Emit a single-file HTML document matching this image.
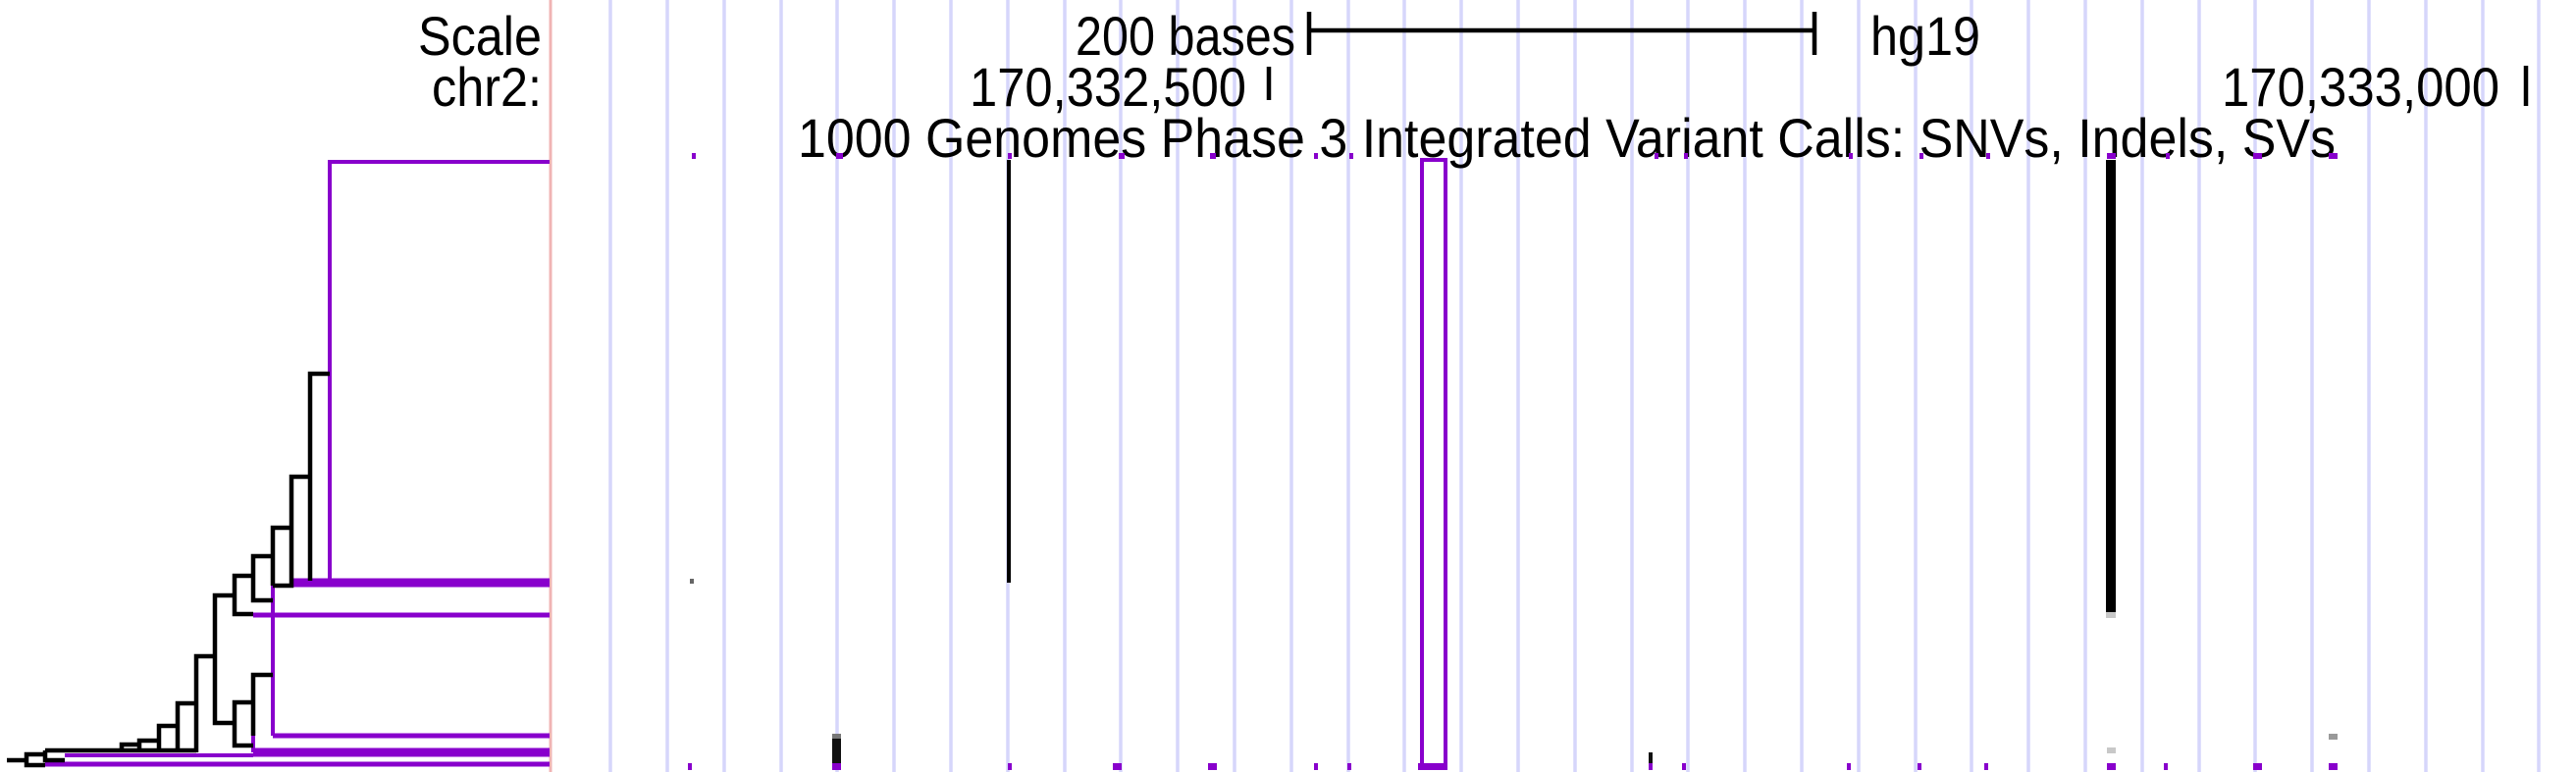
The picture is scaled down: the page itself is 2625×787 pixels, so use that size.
<!DOCTYPE html>
<html><head><meta charset="utf-8"><style>
html,body{margin:0;padding:0;background:#fff;}
svg{display:block;}
text{font-family:"Liberation Sans",Arial,sans-serif;font-size:56px;fill:#000;}
</style></head><body>
<svg width="2625" height="787" viewBox="0 0 2625 787" xmlns="http://www.w3.org/2000/svg">
<rect width="2625" height="787" fill="#fff"/>
<g stroke="#d6d6fb" stroke-width="3.5">
<line x1="622" y1="0" x2="622" y2="787"/><line x1="680" y1="0" x2="680" y2="787"/><line x1="738" y1="0" x2="738" y2="787"/><line x1="796" y1="0" x2="796" y2="787"/><line x1="853" y1="0" x2="853" y2="787"/><line x1="911" y1="0" x2="911" y2="787"/><line x1="969" y1="0" x2="969" y2="787"/><line x1="1027" y1="0" x2="1027" y2="787"/><line x1="1085" y1="0" x2="1085" y2="787"/><line x1="1142" y1="0" x2="1142" y2="787"/><line x1="1200" y1="0" x2="1200" y2="787"/><line x1="1258" y1="0" x2="1258" y2="787"/><line x1="1316" y1="0" x2="1316" y2="787"/><line x1="1374" y1="0" x2="1374" y2="787"/><line x1="1431" y1="0" x2="1431" y2="787"/><line x1="1489" y1="0" x2="1489" y2="787"/><line x1="1547" y1="0" x2="1547" y2="787"/><line x1="1605" y1="0" x2="1605" y2="787"/><line x1="1663" y1="0" x2="1663" y2="787"/><line x1="1720" y1="0" x2="1720" y2="787"/><line x1="1778" y1="0" x2="1778" y2="787"/><line x1="1836" y1="0" x2="1836" y2="787"/><line x1="1894" y1="0" x2="1894" y2="787"/><line x1="1952" y1="0" x2="1952" y2="787"/><line x1="2009" y1="0" x2="2009" y2="787"/><line x1="2067" y1="0" x2="2067" y2="787"/><line x1="2125" y1="0" x2="2125" y2="787"/><line x1="2183" y1="0" x2="2183" y2="787"/><line x1="2241" y1="0" x2="2241" y2="787"/><line x1="2298" y1="0" x2="2298" y2="787"/><line x1="2356" y1="0" x2="2356" y2="787"/><line x1="2414" y1="0" x2="2414" y2="787"/><line x1="2472" y1="0" x2="2472" y2="787"/><line x1="2530" y1="0" x2="2530" y2="787"/><line x1="2587" y1="0" x2="2587" y2="787"/>
</g>
<line x1="561" y1="0" x2="561" y2="787" stroke="#f0b4b4" stroke-width="3"/>

<text x="552" y="56" text-anchor="end" textLength="126" lengthAdjust="spacingAndGlyphs">Scale</text>
<text x="552" y="108" text-anchor="end" textLength="112" lengthAdjust="spacingAndGlyphs">chr2:</text>
<text x="1096" y="56" textLength="224" lengthAdjust="spacingAndGlyphs">200 bases</text>
<text x="1906" y="56" textLength="112" lengthAdjust="spacingAndGlyphs">hg19</text>
<text x="988" y="108" textLength="282" lengthAdjust="spacingAndGlyphs">170,332,500</text>
<text x="2264" y="108" textLength="283" lengthAdjust="spacingAndGlyphs">170,333,000</text>
<text x="813" y="160" textLength="1567" lengthAdjust="spacingAndGlyphs">1000 Genomes Phase 3 Integrated Variant Calls: SNVs, Indels, SVs</text>
<g stroke="#000" stroke-width="4.5">
<line x1="1334" y1="31" x2="1849" y2="31"/>
<line x1="1334" y1="12" x2="1334" y2="56"/>
<line x1="1849" y1="12" x2="1849" y2="56"/>
<line x1="1293" y1="68" x2="1293" y2="102"/>
<line x1="2574" y1="67" x2="2574" y2="108"/>
</g>

<rect x="1026" y="163" width="4" height="431" fill="#000"/>
<rect x="2146" y="163" width="10" height="465" fill="#000"/>
<rect x="2146" y="624" width="10" height="6" fill="#c8c8c8"/>
<rect x="1449" y="163" width="24" height="617" fill="none" stroke="#8800cc" stroke-width="4"/>
<rect x="848" y="748" width="9" height="30" fill="#111"/>
<rect x="848" y="748" width="9" height="5" fill="#777"/>
<rect x="1680" y="767" width="4" height="11" fill="#111"/>
<rect x="703" y="590" width="4" height="5" fill="#666"/>
<rect x="2373" y="748" width="9" height="6" fill="#999"/>
<rect x="2147" y="762" width="9" height="6" fill="#c8c8c8"/>
<g fill="#8800cc">
<rect x="705" y="156" width="4" height="6"/><rect x="852" y="156" width="7" height="6"/><rect x="1027" y="156" width="4" height="6"/><rect x="1140" y="156" width="6" height="6"/><rect x="1233" y="156" width="6" height="6"/><rect x="1339" y="156" width="4" height="6"/><rect x="1375" y="156" width="4" height="6"/><rect x="1686" y="156" width="4" height="6"/><rect x="1716" y="156" width="4" height="6"/><rect x="1884" y="156" width="4" height="6"/><rect x="1956" y="156" width="4" height="6"/><rect x="2024" y="156" width="4" height="6"/><rect x="2147" y="156" width="9" height="6"/><rect x="2207" y="156" width="4" height="6"/><rect x="2296" y="156" width="9" height="6"/><rect x="2373" y="156" width="9" height="6"/>
<rect x="701" y="778" width="4" height="7"/><rect x="848" y="778" width="9" height="7"/><rect x="1027" y="778" width="4" height="7"/><rect x="1134" y="778" width="9" height="7"/><rect x="1231" y="778" width="9" height="7"/><rect x="1339" y="778" width="4" height="7"/><rect x="1373" y="778" width="4" height="7"/><rect x="1445" y="778" width="30" height="7"/><rect x="1680" y="778" width="4" height="7"/><rect x="1714" y="778" width="4" height="7"/><rect x="1882" y="778" width="4" height="7"/><rect x="1954" y="778" width="4" height="7"/><rect x="2022" y="778" width="4" height="7"/><rect x="2147" y="778" width="9" height="7"/><rect x="2205" y="778" width="4" height="7"/><rect x="2296" y="778" width="9" height="7"/><rect x="2373" y="778" width="9" height="7"/>
</g>

<g stroke="#8800cc" fill="none">
<polyline points="560,165 336,165 336,592" stroke-width="4"/>
<line x1="298" y1="594" x2="560" y2="594" stroke-width="9"/>
<line x1="278" y1="597" x2="278" y2="750" stroke-width="4"/>
<line x1="258" y1="627" x2="560" y2="627" stroke-width="5"/>
<line x1="278" y1="750" x2="560" y2="750" stroke-width="5"/>
<line x1="258" y1="750" x2="258" y2="767" stroke-width="4"/>
<line x1="258" y1="767" x2="560" y2="767" stroke-width="9"/>
<line x1="66" y1="770" x2="258" y2="770" stroke-width="4"/>
<line x1="46" y1="779" x2="560" y2="779" stroke-width="5"/>
</g>
<g stroke="#000" stroke-width="4.5" fill="none">
<polyline points="336,381 316,381 316,592"/>
<polyline points="316,486 297,486 297,597 278,597"/>
<polyline points="297,538 278,538 278,597"/>
<polyline points="278,567 258,567 258,612 278,612"/>
<polyline points="258,587 239,587 239,626 258,626"/>
<polyline points="239,607 219,607 219,737 239,737"/>
<polyline points="258,716 239,716 239,760 258,760"/>
<polyline points="278,688 258,688 258,750"/>
<polyline points="219,669 200,669 200,767"/>
<polyline points="200,717 181,717 181,767"/>
<polyline points="181,740 162,740 162,767"/>
<polyline points="162,755 142,755 142,767"/>
<polyline points="142,759 124,759 124,767"/>
<line x1="46" y1="765" x2="200" y2="765"/>
<polyline points="46,765 46,775 66,775"/>
<polyline points="46,769 27,769 27,780 46,780"/>
<line x1="7" y1="775" x2="27" y2="775"/>
</g>
</svg>
</body></html>
